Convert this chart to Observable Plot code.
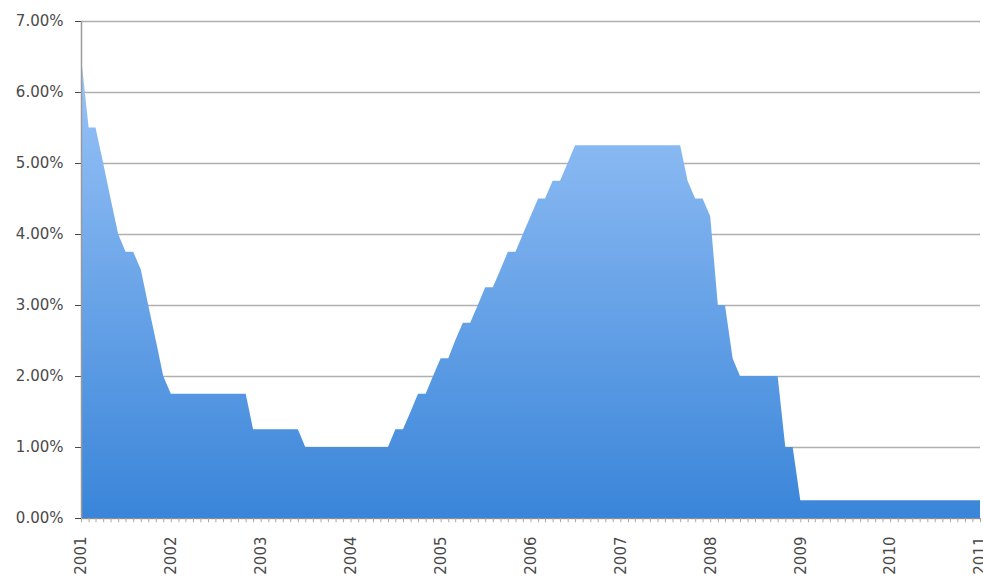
<!DOCTYPE html>
<html>
<head>
<meta charset="utf-8">
<script src="https://cdn.jsdelivr.net/npm/d3@7"></script>
<script src="https://cdn.jsdelivr.net/npm/@observablehq/plot@0.6"></script>
<style>
  body { margin: 0; background: #ffffff; }
  #chart svg { display: block; }
</style>
</head>
<body>
<div id="chart"></div>
<script>
// Federal funds target rate (%), first of each month, Jan 2001 – Jan 2011
const startYear = 2001;
const rates2001 = [6.5, 5.5, 5.5, 5.0, 4.5, 4.0, 3.75, 3.75, 3.5, 3.0, 2.5, 2.0];
const rates2002 = [1.75, 1.75, 1.75, 1.75, 1.75, 1.75, 1.75, 1.75, 1.75, 1.75, 1.75, 1.25];
const rates2003 = [1.25, 1.25, 1.25, 1.25, 1.25, 1.25, 1.0, 1.0, 1.0, 1.0, 1.0, 1.0];
const rates2004 = [1.0, 1.0, 1.0, 1.0, 1.0, 1.0, 1.25, 1.25, 1.5, 1.75, 1.75, 2.0];
const rates2005 = [2.25, 2.25, 2.5, 2.75, 2.75, 3.0, 3.25, 3.25, 3.5, 3.75, 3.75, 4.0];
const rates2006 = [4.25, 4.5, 4.5, 4.75, 4.75, 5.0, 5.25, 5.25, 5.25, 5.25, 5.25, 5.25];
const rates2007 = [5.25, 5.25, 5.25, 5.25, 5.25, 5.25, 5.25, 5.25, 5.25, 4.75, 4.5, 4.5];
const rates2008 = [4.25, 3.0, 3.0, 2.25, 2.0, 2.0, 2.0, 2.0, 2.0, 2.0, 1.0, 1.0];
const rates2009 = [0.25, 0.25, 0.25, 0.25, 0.25, 0.25, 0.25, 0.25, 0.25, 0.25, 0.25, 0.25];
const rates2010 = [0.25, 0.25, 0.25, 0.25, 0.25, 0.25, 0.25, 0.25, 0.25, 0.25, 0.25, 0.25];
const rates2011 = [0.25];

const yearTicks = [2001, 2002, 2003, 2004, 2005, 2006, 2007, 2008, 2009, 2010, 2011];
const yTicks = [0, 1, 2, 3, 4, 5, 6, 7];

const rates = [rates2001, rates2002, rates2003, rates2004, rates2005, rates2006,
               rates2007, rates2008, rates2009, rates2010, rates2011].flat();
const data = rates.map((r, i) => ({ date: new Date(Date.UTC(startYear, i, 1)), rate: r }));
const yearDates = yearTicks.map(y => new Date(Date.UTC(y, 0, 1)));

const chart = Plot.plot({
  width: 983,
  height: 579,
  marginLeft: 81,
  marginRight: 3,
  marginTop: 21,
  marginBottom: 61,
  style: {
    fontFamily: "'DejaVu Sans', Verdana, sans-serif",
    fontSize: "15px",
    color: "#4a4a4a",
    background: "#ffffff",
    overflow: "visible"
  },
  x: {
    type: "utc",
    domain: [yearDates[0], yearDates[yearDates.length - 1]],
    ticks: yearDates,
    tickFormat: d3.utcFormat("%Y"),
    tickRotate: -90,
    tickSize: 0,
    tickPadding: 18,
    label: null
  },
  y: {
    domain: [0, 7],
    ticks: yTicks,
    tickFormat: d => d.toFixed(2) + "%",
    tickSize: 6,
    tickPadding: 12,
    label: null
  },
  marks: [
    Plot.ruleY(yTicks, { stroke: "#b0b0b0", strokeWidth: 1.6 }),
    Plot.areaY(data, { x: "date", y: "rate", fill: "url(#rateGrad)", curve: "linear" }),
    Plot.ruleX([yearDates[0]], { y1: 0, y2: 7, stroke: "#9a9a9a", strokeWidth: 1.5 }),
    Plot.ruleY([0], { stroke: "#8c8c8c", strokeWidth: 1.2 }),
    Plot.ruleX(data, { x: "date", y1: 0, y2: -0.06, stroke: "#a8a8a8" })
  ]
});

const svg = d3.select(chart);
const defs = svg.insert("defs", ":first-child");
const grad = defs.append("linearGradient")
  .attr("id", "rateGrad")
  .attr("x1", 0).attr("y1", 0).attr("x2", 0).attr("y2", 1);
grad.append("stop").attr("offset", "0%").attr("stop-color", "#9cc5f8");
grad.append("stop").attr("offset", "100%").attr("stop-color", "#3a85d9");

document.getElementById("chart").appendChild(chart);
</script>
</body>
</html>
